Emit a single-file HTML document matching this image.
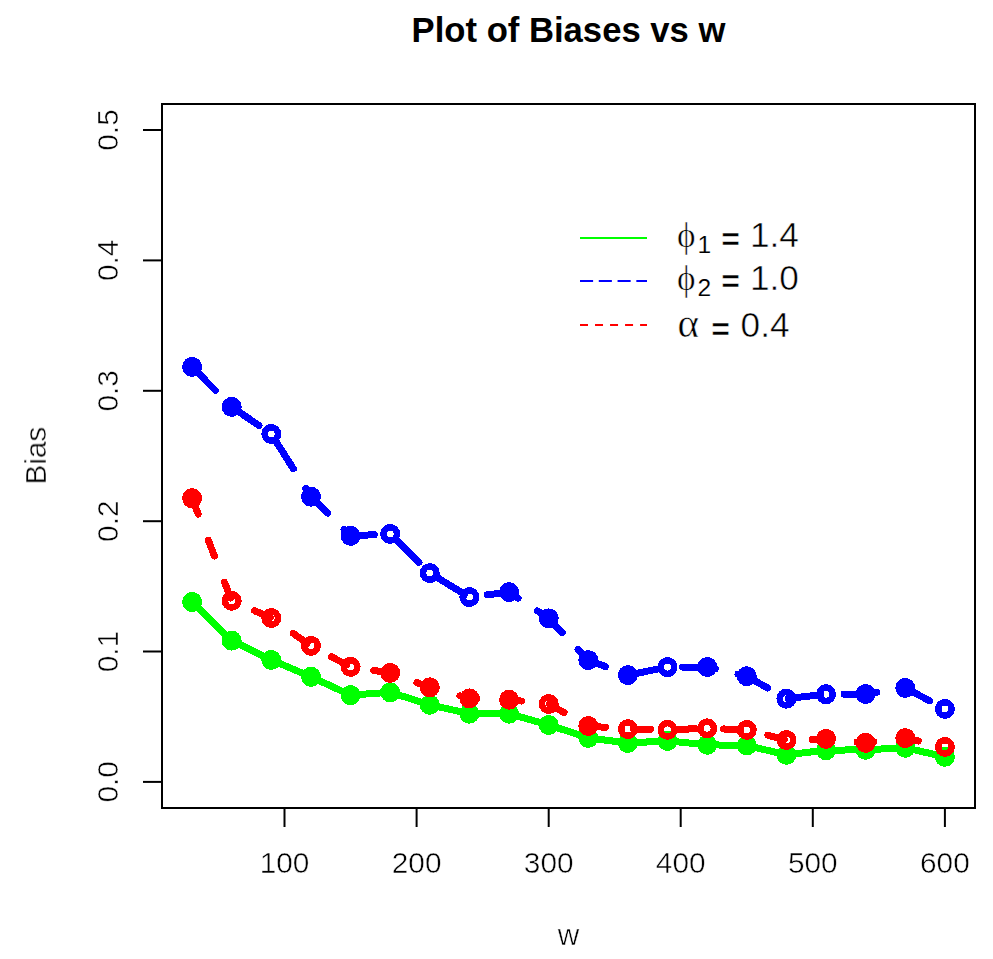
<!DOCTYPE html>
<html lang="en"><head><meta charset="utf-8"><title>Plot of Biases vs w</title>
<style>html,body{margin:0;padding:0;background:#fff}svg{display:block}text{font-family:"Liberation Sans",Arial,Helvetica,sans-serif;fill:#000}.thin{stroke:#fff;stroke-width:0.5px;paint-order:fill stroke}.ga{opacity:0.999}.sym{font-family:"Liberation Serif","DejaVu Serif",serif}</style></head><body>
<svg width="993" height="959" viewBox="0 0 993 959">
<rect width="993" height="959" fill="#fff"/>
<g shape-rendering="crispEdges">
<polyline points="192.1,602.0 231.7,640.6 271.3,659.9 311.0,676.8 350.6,695.1 390.2,692.3 429.8,704.8 469.4,713.7 509.1,713.7 548.7,725.0 588.3,737.9 627.9,743.0 667.5,740.9 707.2,744.8 746.8,745.5 786.4,754.8 826.0,750.2 865.6,749.8 905.3,747.8 944.9,756.8" fill="none" stroke="#00ff00" stroke-width="7.0" stroke-linecap="round" stroke-linejoin="round"/>
<g fill="none" stroke="#00ff00" stroke-width="6.6">
<circle cx="192.1" cy="602.0" r="6.7" fill="#00ff00"/>
<circle cx="231.7" cy="640.6" r="6.7" fill="#00ff00"/>
<circle cx="271.3" cy="659.9" r="6.7" fill="#00ff00"/>
<circle cx="311.0" cy="676.8" r="6.7" fill="#00ff00"/>
<circle cx="350.6" cy="695.1" r="6.7" fill="#00ff00"/>
<circle cx="390.2" cy="692.3" r="6.7" fill="#00ff00"/>
<circle cx="429.8" cy="704.8" r="6.7" fill="#00ff00"/>
<circle cx="469.4" cy="713.7" r="6.7" fill="#00ff00"/>
<circle cx="509.1" cy="713.7" r="6.7" fill="#00ff00"/>
<circle cx="548.7" cy="725.0" r="6.7" fill="#00ff00"/>
<circle cx="588.3" cy="737.9" r="6.7" fill="#00ff00"/>
<circle cx="627.9" cy="743.0" r="6.7" fill="#00ff00"/>
<circle cx="667.5" cy="740.9" r="6.7" fill="#00ff00"/>
<circle cx="707.2" cy="744.8" r="6.7" fill="#00ff00"/>
<circle cx="746.8" cy="745.5" r="6.7" fill="#00ff00"/>
<circle cx="786.4" cy="754.8" r="6.7" fill="#00ff00"/>
<circle cx="826.0" cy="750.2" r="6.7" fill="#00ff00"/>
<circle cx="865.6" cy="749.8" r="6.7" fill="#00ff00"/>
<circle cx="905.3" cy="747.8" r="6.7" fill="#00ff00"/>
<circle cx="944.9" cy="756.8" r="6.7" fill="#00ff00"/>
</g>
<polyline points="192.1,366.9 231.7,406.9 271.3,433.9 311.0,496.7 350.6,535.9 390.2,533.9 429.8,573.1 469.4,597.1 509.1,592.1 548.7,618.4 588.3,660.1 627.9,675.1 667.5,667.1 707.2,667.0 746.8,676.2 786.4,698.7 826.0,694.2 865.6,694.0 905.3,687.9 944.9,708.9" fill="none" stroke="#0000ff" stroke-width="7.0" stroke-linecap="round" stroke-linejoin="round" stroke-dasharray="33.0 23.25" stroke-dashoffset="0.0"/>
<g fill="none" stroke="#0000ff" stroke-width="6.6">
<circle cx="192.1" cy="366.9" r="6.7" fill="#0000ff"/>
<circle cx="231.7" cy="406.9" r="6.7" fill="#0000ff"/>
<circle cx="271.3" cy="433.9" r="6.7"/>
<circle cx="311.0" cy="496.7" r="6.7" fill="#0000ff"/>
<circle cx="350.6" cy="535.9" r="6.7" fill="#0000ff"/>
<circle cx="390.2" cy="533.9" r="6.7"/>
<circle cx="429.8" cy="573.1" r="6.7"/>
<circle cx="469.4" cy="597.1" r="6.7"/>
<circle cx="509.1" cy="592.1" r="6.7" fill="#0000ff"/>
<circle cx="548.7" cy="618.4" r="6.7" fill="#0000ff"/>
<circle cx="588.3" cy="660.1" r="6.7" fill="#0000ff"/>
<circle cx="627.9" cy="675.1" r="6.7" fill="#0000ff"/>
<circle cx="667.5" cy="667.1" r="6.7"/>
<circle cx="707.2" cy="667.0" r="6.7" fill="#0000ff"/>
<circle cx="746.8" cy="676.2" r="6.7" fill="#0000ff"/>
<circle cx="786.4" cy="698.7" r="6.7"/>
<circle cx="826.0" cy="694.2" r="6.7"/>
<circle cx="865.6" cy="694.0" r="6.7" fill="#0000ff"/>
<circle cx="905.3" cy="687.9" r="6.7" fill="#0000ff"/>
<circle cx="944.9" cy="708.9" r="6.7"/>
</g>
<polyline points="192.1,498.2 231.7,600.8 271.3,618.0 311.0,645.9 350.6,666.9 390.2,672.9 429.8,687.3 469.4,698.4 509.1,699.7 548.7,704.0 588.3,726.0 627.9,729.1 667.5,729.8 707.2,728.3 746.8,729.9 786.4,740.0 826.0,738.9 865.6,742.9 905.3,738.1 944.9,746.9" fill="none" stroke="#ff0000" stroke-width="7.0" stroke-linecap="round" stroke-linejoin="round" stroke-dasharray="17.0 28.0" stroke-dashoffset="0.0"/>
<g fill="none" stroke="#ff0000" stroke-width="6.6">
<circle cx="192.1" cy="498.2" r="6.7" fill="#ff0000"/>
<circle cx="231.7" cy="600.8" r="6.7"/>
<circle cx="271.3" cy="618.0" r="6.7"/>
<circle cx="311.0" cy="645.9" r="6.7"/>
<circle cx="350.6" cy="666.9" r="6.7"/>
<circle cx="390.2" cy="672.9" r="6.7" fill="#ff0000"/>
<circle cx="429.8" cy="687.3" r="6.7" fill="#ff0000"/>
<circle cx="469.4" cy="698.4" r="6.7" fill="#ff0000"/>
<circle cx="509.1" cy="699.7" r="6.7" fill="#ff0000"/>
<circle cx="548.7" cy="704.0" r="6.7"/>
<circle cx="588.3" cy="726.0" r="6.7"/>
<circle cx="627.9" cy="729.1" r="6.7"/>
<circle cx="667.5" cy="729.8" r="6.7"/>
<circle cx="707.2" cy="728.3" r="6.7"/>
<circle cx="746.8" cy="729.9" r="6.7"/>
<circle cx="786.4" cy="740.0" r="6.7"/>
<circle cx="826.0" cy="738.9" r="6.7" fill="#ff0000"/>
<circle cx="865.6" cy="742.9" r="6.7" fill="#ff0000"/>
<circle cx="905.3" cy="738.1" r="6.7" fill="#ff0000"/>
<circle cx="944.9" cy="746.9" r="6.7"/>
</g>
</g>
<g stroke="#000" stroke-width="2" fill="none" stroke-linecap="butt">
<rect x="162" y="104" width="813" height="704"/>
<line x1="284.5" y1="808" x2="284.5" y2="827"/>
<line x1="416.6" y1="808" x2="416.6" y2="827"/>
<line x1="548.7" y1="808" x2="548.7" y2="827"/>
<line x1="680.7" y1="808" x2="680.7" y2="827"/>
<line x1="812.8" y1="808" x2="812.8" y2="827"/>
<line x1="944.9" y1="808" x2="944.9" y2="827"/>
<line x1="162" y1="781.9" x2="143" y2="781.9"/>
<line x1="162" y1="651.5" x2="143" y2="651.5"/>
<line x1="162" y1="521.2" x2="143" y2="521.2"/>
<line x1="162" y1="390.8" x2="143" y2="390.8"/>
<line x1="162" y1="260.4" x2="143" y2="260.4"/>
<line x1="162" y1="130.0" x2="143" y2="130.0"/>
</g>
<g class="thin ga" font-size="29.8" text-anchor="middle">
<text x="284.5" y="872.7">100</text>
<text x="416.6" y="872.7">200</text>
<text x="548.7" y="872.7">300</text>
<text x="680.7" y="872.7">400</text>
<text x="812.8" y="872.7">500</text>
<text x="944.9" y="872.7">600</text>
<text x="568.6" y="945">w</text>
<text transform="translate(118,781.9) rotate(-90)">0.0</text>
<text transform="translate(118,651.5) rotate(-90)">0.1</text>
<text transform="translate(118,521.2) rotate(-90)">0.2</text>
<text transform="translate(118,390.8) rotate(-90)">0.3</text>
<text transform="translate(118,260.4) rotate(-90)">0.4</text>
<text transform="translate(118,130.0) rotate(-90)">0.5</text>
<text transform="translate(46,455.6) rotate(-90)">Bias</text>
</g>
<text x="568.5" y="41.6" font-size="34.65" font-weight="bold" text-anchor="middle" class="ga">Plot of Biases vs w</text>
<g stroke-width="2" fill="none">
<line x1="580" y1="238" x2="647" y2="238" stroke="#00ff00"/>
<line x1="580" y1="281" x2="647" y2="281" stroke="#0000ff" stroke-dasharray="13.1 5.68"/>
<line x1="580" y1="325" x2="647" y2="325" stroke="#ff0000" stroke-dasharray="8 7.02"/>
</g>
<g class="thin ga" font-size="35.2">
<text y="247.2"><tspan class="sym" x="677.0" font-size="35.2">ϕ</tspan><tspan x="697.5" dy="5.7" font-size="24.6" stroke-width="0.15">1</tspan><tspan x="721.3" dy="-3.2" font-weight="bold" font-size="32.0">=</tspan><tspan x="750.0" dy="-2.5">1.4</tspan></text>
<text y="289.9"><tspan class="sym" x="677.0" font-size="35.2">ϕ</tspan><tspan x="697.5" dy="5.7" font-size="24.6" stroke-width="0.15">2</tspan><tspan x="721.3" dy="-3.2" font-weight="bold" font-size="32.0">=</tspan><tspan x="750.0" dy="-2.5">1.0</tspan></text>
<text y="337.1"><tspan class="sym" x="677.5" font-size="41.0">α</tspan><tspan x="711.25" dy="2.5" font-weight="bold" font-size="32.0">=</tspan><tspan x="740.6" dy="-2.5">0.4</tspan></text>
</g>
</svg></body></html>
